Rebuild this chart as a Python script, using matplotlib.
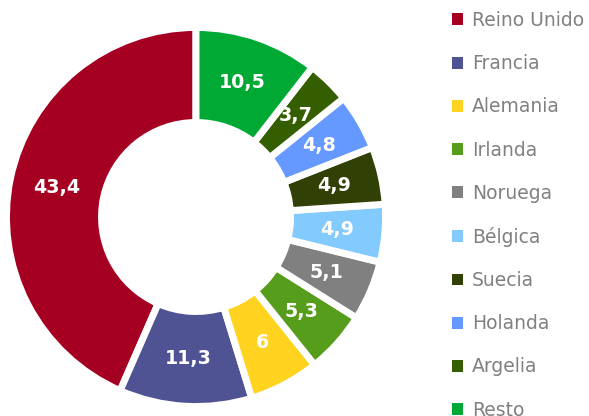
import numpy as np
import matplotlib.pyplot as plt
from matplotlib.patches import Patch

plt.rcParams['font.family'] = ['DejaVu Sans']

paises = ['Reino Unido', 'Francia', 'Alemania', 'Irlanda', 'Noruega',
          'Bélgica', 'Suecia', 'Holanda', 'Argelia', 'Resto']
valores = [43.4, 11.3, 6, 5.3, 5.1, 4.9, 4.9, 4.8, 3.7, 10.5]
colores = ['#a50021', '#4f5293', '#ffd320', '#579d1c', '#808080',
           '#83caff', '#314004', '#6699ff', '#355e00', '#00a933']

fig = plt.figure(figsize=(5.89, 4.16), dpi=100)
# donut centre ~ (196, 217) px, outer radius ~186 px
ax = fig.add_axes([10 / 589, 13 / 416, 372 / 589, 372 / 416])

wedges, _ = ax.pie(valores, colors=colores, startangle=90, counterclock=True,
                   radius=1.019, normalize=True,
                   wedgeprops=dict(width=0.511, edgecolor='white', linewidth=5))
ax.set_xlim(-1, 1)
ax.set_ylim(-1, 1)
ax.set_aspect('equal')
ax.axis('off')

for w, v in zip(wedges, valores):
    ang = np.deg2rad((w.theta1 + w.theta2) / 2)
    r = 0.763
    ax.text(r * np.cos(ang), r * np.sin(ang), f"{v:g}".replace('.', ','),
            ha='center', va='center', color='white', fontsize=13.7,
            fontweight='bold')

handles = [Patch(facecolor=c, edgecolor='none') for c in colores]
leg = fig.legend(handles, paises, loc='upper left',
                 bbox_to_anchor=(452 / 589, 1 - 11 / 416), frameon=False,
                 fontsize=13.5, labelcolor='#808080', handlelength=0.6,
                 handleheight=0.6, handletextpad=0.45, labelspacing=1.29,
                 borderaxespad=0, borderpad=0)

plt.savefig('out.png', dpi=100)
